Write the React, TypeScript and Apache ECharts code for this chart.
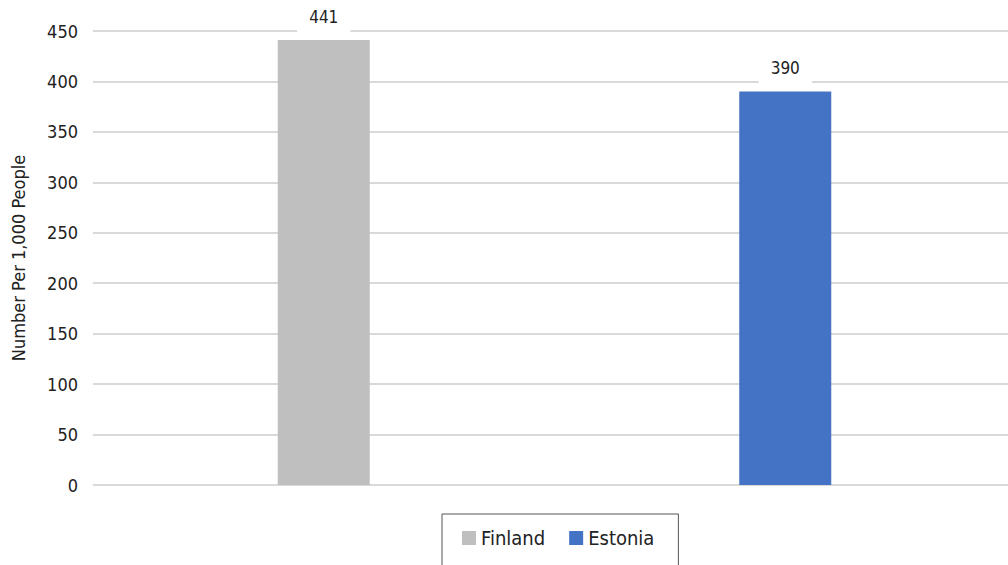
import React, { useEffect, useRef } from "react";
import * as echarts from "echarts";

const categories = ["Finland", "Estonia"];
const finlandValues: (number | string)[] = [441, "-"];
const estoniaValues: (number | string)[] = ["-", 390];
const yTicks = { min: 0, max: 450, interval: 50 };
const yAxisName = "Number Per 1,000 People";

const FONT = "'Liberation Sans Narrow', 'DejaVu Sans Condensed', 'Roboto', sans-serif";
const TEXT = "#222222";

export default function App() {
  const ref = useRef<HTMLDivElement>(null);
  useEffect(() => {
    if (!ref.current) return;
    const chart = echarts.init(ref.current, undefined, { renderer: "svg" });
    const label = {
      show: true,
      position: "top" as const,
      distance: 3,
      color: TEXT,
      fontFamily: FONT,
      fontSize: 17,
      backgroundColor: "#ffffff",
      padding: [2, 12, 12, 12],
    };
    chart.setOption({
      animation: false,
      textStyle: { fontFamily: FONT },
      grid: { left: 93, right: 0, top: 31, bottom: 80, containLabel: false },
      legend: {
        data: ["Finland", "Estonia"],
        left: 442,
        top: 514,
        icon: "rect",
        itemWidth: 14,
        itemHeight: 14,
        itemGap: 24,
        itemTextGap: 8,
        borderColor: "#555555",
        borderWidth: 1,
        padding: [14, 24, 20, 20],
        textStyle: { fontFamily: FONT, fontSize: 20, color: TEXT },
      },
      xAxis: {
        type: "category",
        data: categories,
        axisLine: { show: false },
        axisTick: { show: false },
        axisLabel: { show: false },
      },
      yAxis: {
        type: "value",
        min: yTicks.min,
        max: yTicks.max,
        interval: yTicks.interval,
        name: yAxisName,
        nameLocation: "middle",
        nameRotate: 90,
        nameGap: 66,
        nameTextStyle: { fontFamily: FONT, fontSize: 18, color: TEXT },
        axisLine: { show: false },
        axisTick: { show: false },
        axisLabel: { fontFamily: FONT, fontSize: 18, color: TEXT, margin: 15 },
        splitLine: { lineStyle: { color: "#d9d9d9", width: 2 } },
      },
      series: [
        {
          name: "Finland",
          type: "bar",
          data: finlandValues,
          barWidth: 92,
          barGap: "-100%",
          itemStyle: { color: "#bfbfbf" },
          label,
        },
        {
          name: "Estonia",
          type: "bar",
          data: estoniaValues,
          barWidth: 92,
          barGap: "-100%",
          itemStyle: { color: "#4472c4" },
          label,
        },
      ],
    });
    return () => chart.dispose();
  }, []);
  return (
    <div style={{ width: 1008, height: 565, position: "absolute", left: 0, top: 0, overflow: "hidden" }}>
      <div ref={ref} style={{ width: 1016, height: 565 }} />
    </div>
  );
}
